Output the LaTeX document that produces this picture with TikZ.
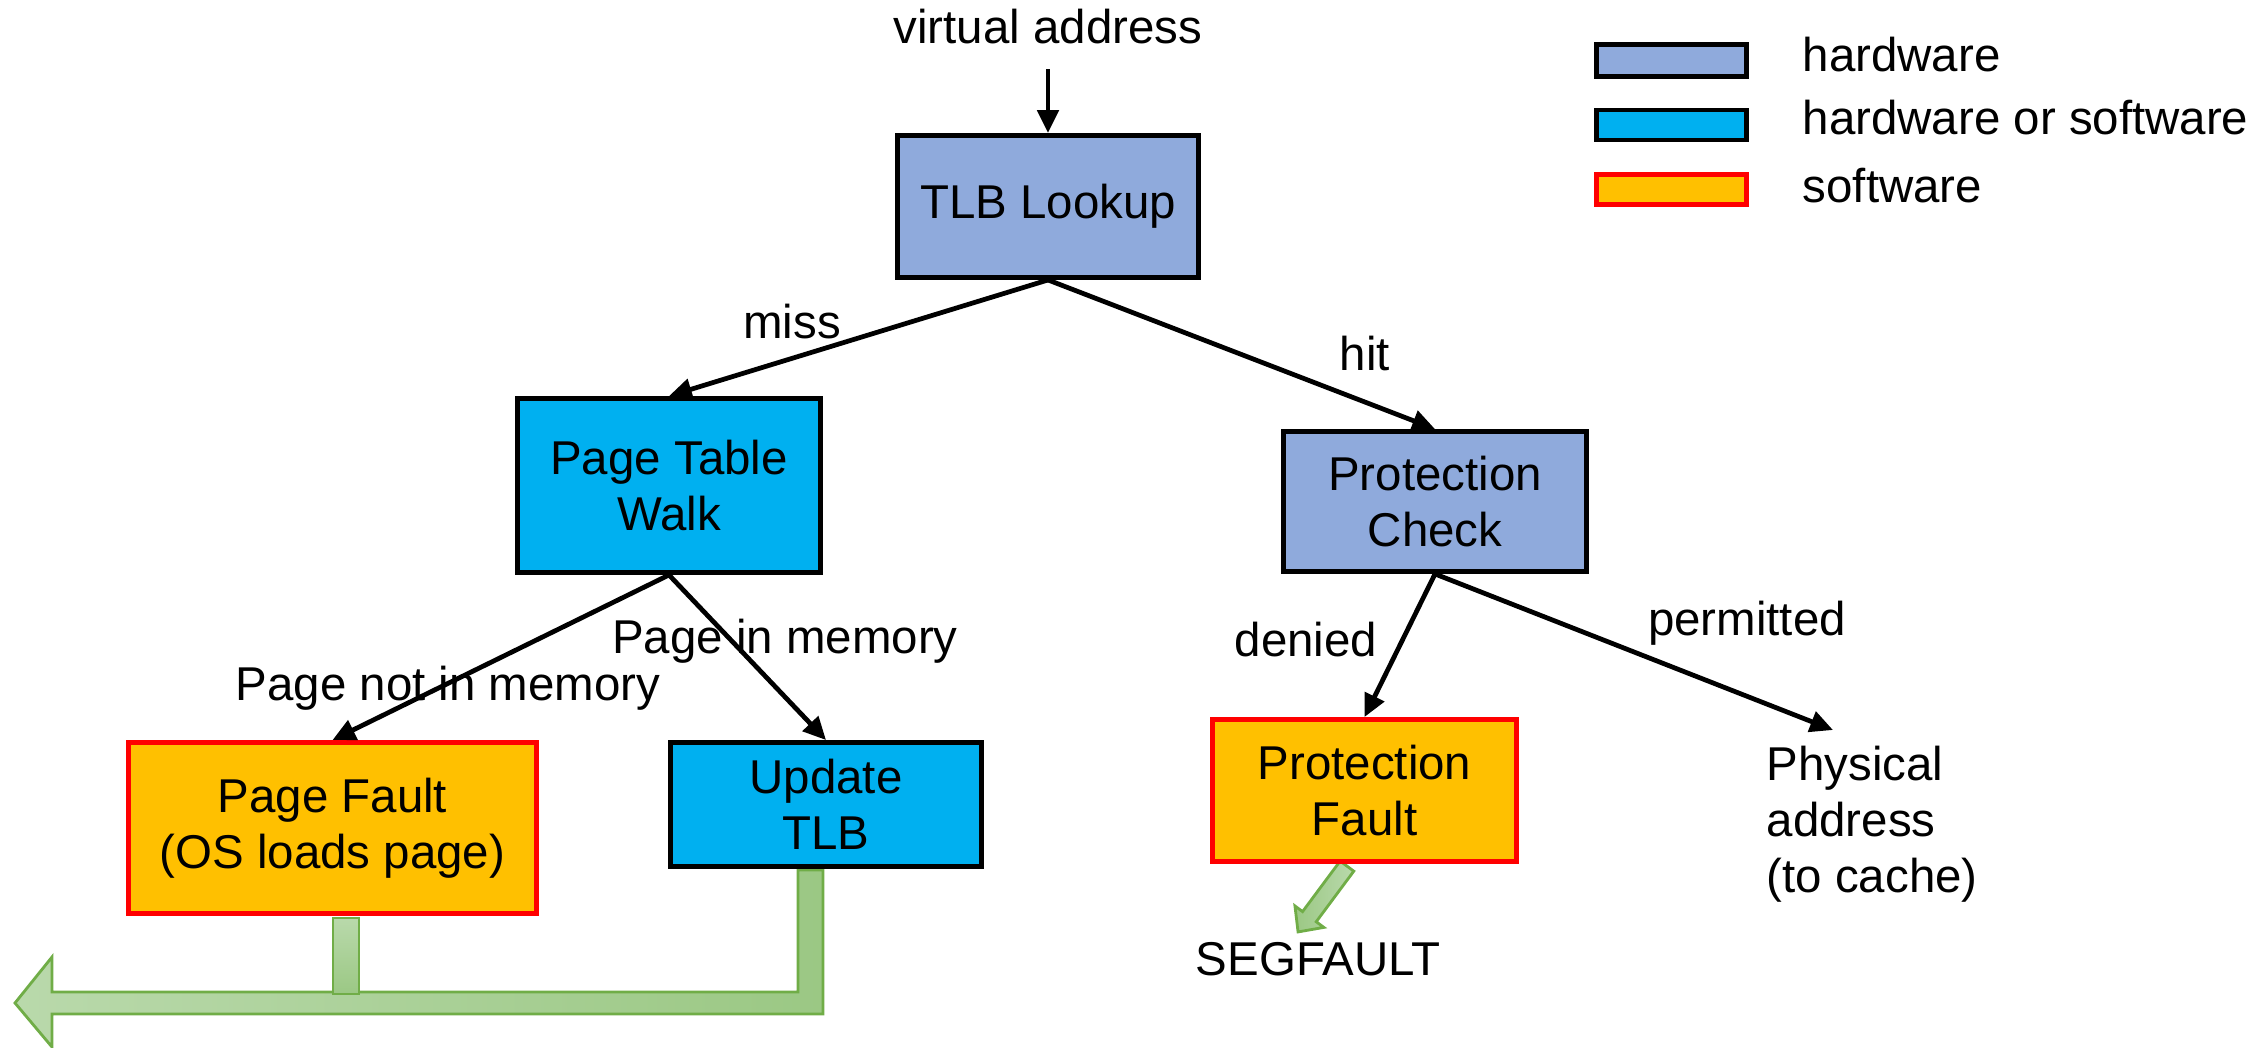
\documentclass[tikz,border=0pt]{standalone}
\usepackage{fontspec}
\setmainfont{Liberation Sans}
\usetikzlibrary{arrows.meta}

\definecolor{hwblue}{HTML}{8FAADC}
\definecolor{hwswblue}{HTML}{00B0F0}
\definecolor{swyellow}{HTML}{FFC000}
\definecolor{swred}{HTML}{FF0000}
\definecolor{grnline}{HTML}{70AD47}
\definecolor{grnlight}{HTML}{B9D9AB}
\definecolor{grndark}{HTML}{9BC884}
\newcommand{\diagfont}{\fontsize{13.5}{16}\selectfont}

\tikzset{
  hwbox/.style = {draw = black, fill = hwblue, line width = 1.4pt, align = center, font = \diagfont},
  hwswbox/.style = {draw = black, fill = hwswblue, line width = 1.4pt, align = center, font = \diagfont},
  swbox/.style = {draw = swred, fill = swyellow, line width = 1.4pt, align = center, font = \diagfont},
  txt/.style = {font = \diagfont, inner sep = 0pt},
  arr/.style = {line width = 1.35pt, -{Triangle[length = 6.5pt, width = 6pt]}},
  blockarrow/.style = {draw = grnline, line width = 0.8pt}
}

\begin{document}
\begin{tikzpicture}
\useasboundingbox (0,0) rectangle (22.66,-10.48);

% green block arrows
\draw[blockarrow, left color = grnlight, right color = grndark] (8.23,-8.70) -- (8.23,-10.14) -- (0.52,-10.14) -- (0.52,-10.47) -- (0.15,-10.03) -- (0.52,-9.57) -- (0.52,-9.92) -- (7.98,-9.92) -- (7.98,-8.70) -- cycle;
\draw[blockarrow, top color = grnlight, bottom color = grndark] (3.33,-9.18) rectangle (3.59,-9.94);
\begin{scope}[shift ={(13.225,-8.99)}, rotate = 233.4]
\draw[blockarrow, left color = grndark, right color = grnlight] (-0.41,0.085) -- (0.22,0.085) -- (0.22,0.18) -- (0.41,0) -- (0.22,-0.18) -- (0.22,-0.085) -- (-0.41,-0.085) -- cycle;
\end{scope}

% boxes
\node[hwbox, minimum width = 3.01cm, minimum height = 1.42cm] (tlb) at (10.48,-2.065) {TLB Lookup};
\node[hwswbox, minimum width = 3.03cm, minimum height = 1.74cm] (ptw) at (6.69,-4.855) {Page Table\\Walk};
\node[hwbox, minimum width = 3.03cm, minimum height = 1.40cm] (pc) at (14.35,-5.015) {Protection\\Check};
\node[swbox, minimum width = 4.08cm, minimum height = 1.71cm] (pf) at (3.325,-8.28) {Page Fault\\(OS loads page)};
\node[hwswbox, minimum width = 3.11cm, minimum height = 1.24cm] (upd) at (8.26,-8.045) {Update\\TLB};
\node[swbox, minimum width = 3.04cm, minimum height = 1.42cm] (pfault) at (13.645,-7.905) {Protection\\Fault};

% labels
\node[txt, anchor = base] (va) at (10.48,-0.44) {virtual address};
\node[txt, anchor = base] (miss) at (7.92,-3.38) {miss};
\node[txt, anchor = base] (hit) at (13.65,-3.70) {hit};
\node[txt, anchor = base] (pin) at (7.85,-6.53) {Page in memory};
\node[txt, anchor = base] (pnot) at (4.48,-7.00) {Page not in memory};
\node[txt, anchor = base] (denied) at (13.06,-6.56) {denied};
\node[txt, anchor = base] (permitted) at (17.47,-6.35) {permitted};
\node[txt, anchor = north west, align = left] (phys) at (17.66,-7.45) {Physical\\address\\(to cache)};
\node[txt, anchor = base] (segf) at (13.18,-9.75) {SEGFAULT};
\coordinate (physin) at (18.33,-7.30);

% arrows
\draw[arr, shorten < = 0.24cm] (va.south) -- (tlb.north);
\draw[arr] (tlb.south) -- (ptw.north);
\draw[arr] (tlb.south) -- (pc.north);
\draw[arr] (ptw.south) -- (pf.north);
\draw[arr] (ptw.south) -- (upd.north);
\draw[arr] (pc.south) -- (pfault.north);
\draw[arr] (pc.south) -- (physin);

% legend
\node[hwbox, minimum width = 1.50cm, minimum height = 0.32cm] (lhw) at (16.715,-0.605) {};
\node[hwswbox, minimum width = 1.50cm, minimum height = 0.30cm] (lhwsw) at (16.715,-1.25) {};
\node[swbox, minimum width = 1.50cm, minimum height = 0.30cm] (lsw) at (16.715,-1.895) {};
\node[txt, anchor = base west] (lhwtxt) at (18.02,-0.72) {hardware};
\node[txt, anchor = base west] (lhwswtxt) at (18.02,-1.35) {hardware or software};
\node[txt, anchor = base west] (lswtxt) at (18.02,-2.03) {software};
\end{tikzpicture}
\end{document}
